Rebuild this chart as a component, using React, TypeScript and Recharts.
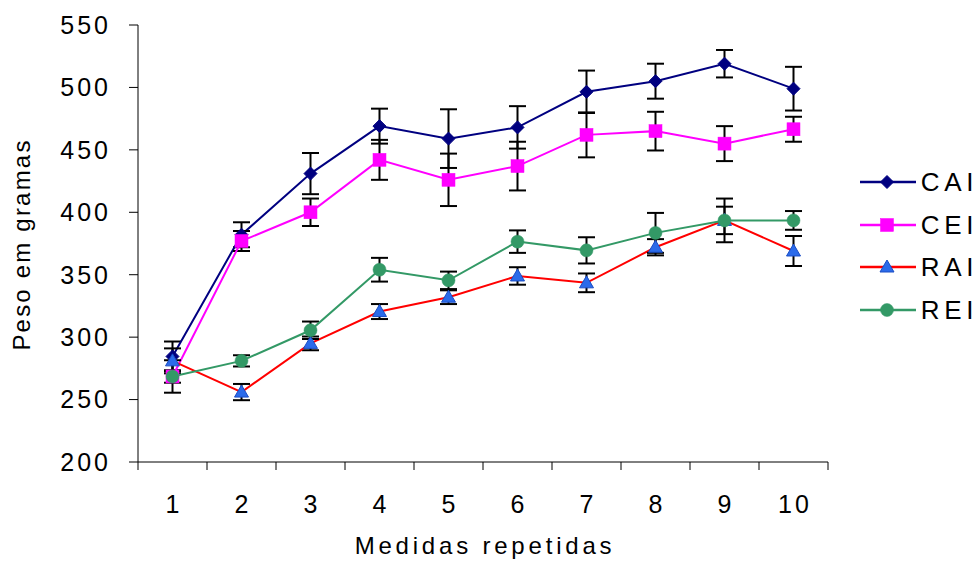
import React from 'react';
import { LineChart, Line, XAxis, YAxis, ErrorBar, Label } from 'recharts';

const categories = [1, 2, 3, 4, 5, 6, 7, 8, 9, 10];
const caiValues = [284.5, 382, 431, 469, 459, 468, 496.5, 505, 519, 499];
const caiErrors = [12, 10, 16.5, 14, 23.5, 17, 17, 14, 11, 17.5];
const ceiValues = [268.5, 377, 400, 442, 426, 437, 462, 465, 455, 466.5];
const ceiErrors = [5, 8, 11, 16, 21, 19.5, 18, 15.5, 14, 10];
const raiValues = [281, 256, 295, 320.5, 332, 349, 343.5, 372, 393.5, 369];
const raiErrors = [10, 6.5, 5.5, 6, 5.5, 7, 7.5, 6.5, 17.5, 12];
const reiValues = [268.5, 281, 305.5, 354, 345.5, 376.5, 369.5, 383.5, 393.5, 393.5];
const reiErrors = [13, 4.5, 7, 9.5, 7, 9, 10.5, 16, 11, 7.5];

const yTicks = [200, 250, 300, 350, 400, 450, 500, 550];
const xTicks = [0.5, 1, 1.5, 2, 2.5, 3, 3.5, 4, 4.5, 5, 5.5, 6, 6.5, 7, 7.5, 8, 8.5, 9, 9.5, 10, 10.5];

const seriesNames = ['CAI', 'CEI', 'RAI', 'REI'];

const data = categories.map((c, i) => ({
  x: c,
  CAI: caiValues[i],
  CAIerr: caiErrors[i],
  CEI: ceiValues[i],
  CEIerr: ceiErrors[i],
  RAI: raiValues[i],
  RAIerr: raiErrors[i],
  REI: reiValues[i],
  REIerr: reiErrors[i],
}));

const FONT = '"Liberation Sans", Arial, sans-serif';

const COLORS: Record<string, string> = {
  CAI: '#000080',
  CEI: '#FF00FF',
  RAI: '#FF0000',
  REI: '#339966',
};

const Marker = ({ name, cx, cy }: { name: string; cx: number; cy: number }) => {
  if (cx == null || cy == null) return null;
  if (name === 'CAI') {
    const r = 6.5;
    return (
      <path
        d={`M${cx},${cy - r} L${cx + r},${cy} L${cx},${cy + r} L${cx - r},${cy} Z`}
        fill="#000080"
        stroke="#000080"
        strokeWidth={1}
      />
    );
  }
  if (name === 'CEI') {
    const s = 6.5;
    return <rect x={cx - s} y={cy - s} width={2 * s} height={2 * s} fill="#FF00FF" stroke="#FF00FF" strokeWidth={0.5} />;
  }
  if (name === 'RAI') {
    const w = 7;
    return (
      <path
        d={`M${cx},${cy - 7} L${cx + w},${cy + 5} L${cx - w},${cy + 5} Z`}
        fill="#2B6BEA"
        stroke="#1A4DC4"
        strokeWidth={1}
        strokeLinejoin="round"
      />
    );
  }
  return <circle cx={cx} cy={cy} r={6.5} fill="#339966" stroke="#339966" strokeWidth={0.5} />;
};

const makeDot = (name: string) => (props: any) => (
  <Marker key={`${name}-${props.index}`} name={name} cx={props.cx} cy={props.cy} />
);

const XTick = (props: any) => {
  const { x, y, payload } = props;
  const v = payload.value;
  if (Number.isInteger(v)) {
    return (
      <text
        x={x + 1.5}
        y={y}
        dy="0.71em"
        textAnchor="middle"
        fontFamily={FONT}
        fontSize={25}
        letterSpacing={3}
        fill="#000"
      >
        {v}
      </text>
    );
  }
  return <line x1={x} x2={x} y1={y - 33} y2={y - 25} stroke="#000" strokeWidth={1} />;
};

const LegendBox = () => (
  <div style={{ position: 'absolute', left: 858, top: 160.5, width: 120, fontFamily: FONT }}>
    {seriesNames.map((n) => (
      <div key={n} style={{ height: 42.7, display: 'flex', alignItems: 'center' }}>
        <svg width={64} height={24} style={{ display: 'block' }}>
          <line x1={2} x2={58} y1={12} y2={12} stroke={COLORS[n]} strokeWidth={2.5} />
          <Marker name={n} cx={29} cy={12} />
        </svg>
        <span style={{ fontSize: 26, letterSpacing: 4.6, color: '#000', lineHeight: '24px' }}>{n}</span>
      </div>
    ))}
  </div>
);

export default function App() {
  return (
    <div style={{ position: 'absolute', left: 0, top: 0, width: 978, height: 564, background: '#fff' }}>
      <LineChart width={978} height={564} data={data} margin={{ top: 25, right: 150, bottom: 0, left: 0 }}>
        <XAxis
          dataKey="x"
          type="number"
          domain={[0.5, 10.5]}
          ticks={xTicks}
          interval={0}
          tickLine={false}
          tickSize={8}
          tickMargin={25}
          height={102}
          axisLine={{ stroke: '#000', strokeWidth: 1 }}
          tick={<XTick />}
        >
          <Label
            content={(p: any) => {
              const vb = p.viewBox;
              return (
                <text
                  x={vb.x + vb.width / 2 + 2}
                  y={554}
                  textAnchor="middle"
                  fontFamily={FONT}
                  fontSize={24}
                  letterSpacing={3.8}
                  fill="#000"
                >
                  Medidas repetidas
                </text>
              );
            }}
          />
        </XAxis>
        <YAxis
          domain={[200, 550]}
          ticks={yTicks}
          interval={0}
          width={138}
          tickSize={9}
          tickMargin={18}
          axisLine={{ stroke: '#000', strokeWidth: 1 }}
          tickLine={{ stroke: '#000', strokeWidth: 1 }}
          tick={{ fontFamily: FONT, fontSize: 25, fill: '#000', letterSpacing: 3 }}
        >
          <Label
            content={(p: any) => {
              const vb = p.viewBox;
              const cy = vb.y + vb.height / 2 + 1;
              return (
                <text
                  x={29.5}
                  y={cy}
                  transform={`rotate(-90 29.5 ${cy})`}
                  textAnchor="middle"
                  fontFamily={FONT}
                  fontSize={24}
                  letterSpacing={2.2}
                  fill="#000"
                >
                  Peso em gramas
                </text>
              );
            }}
          />
        </YAxis>
        {seriesNames.map((n) => (
          <Line
            key={n}
            dataKey={n}
            stroke={COLORS[n]}
            strokeWidth={2}
            isAnimationActive={false}
            dot={makeDot(n)}
            activeDot={false}
          >
            <ErrorBar dataKey={`${n}err`} width={8.5} stroke="#000" strokeWidth={2} direction="y" />
          </Line>
        ))}
      </LineChart>
      <LegendBox />
    </div>
  );
}
